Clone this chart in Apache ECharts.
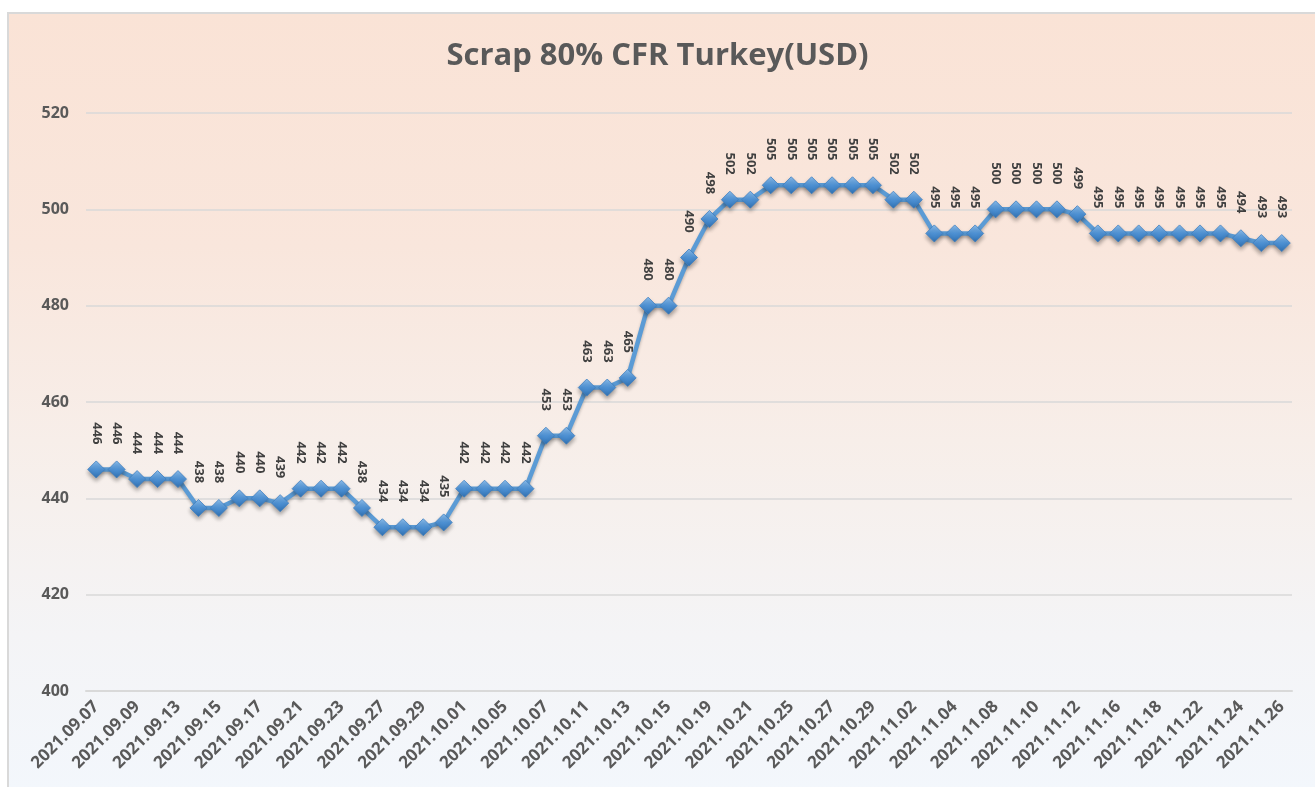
<!DOCTYPE html>
<html>
<head>
<meta charset="utf-8">
<script src="https://cdn.jsdelivr.net/npm/echarts@6/dist/echarts.min.js"></script>
<style>
html,body{margin:0;padding:0;background:#ffffff;width:1315px;height:787px;overflow:hidden;}
#bg{position:absolute;left:7px;top:12px;width:1312px;height:780px;border:2px solid #d9d9d9;box-sizing:border-box;
background:linear-gradient(to bottom,#fae3d6 0%,#f9e6dc 30%,#f7eee9 55%,#f4f4f6 80%,#f3f7fc 100%);}
#chart{position:absolute;left:0;top:0;width:1315px;height:787px;}
</style>
</head>
<body>
<div id="bg"></div>
<div id="chart"></div>
<script>
const titleText = "Scrap 80% CFR Turkey(USD)";
const dates = ["2021.09.07","2021.09.08","2021.09.09","2021.09.10","2021.09.13","2021.09.14","2021.09.15","2021.09.16","2021.09.17","2021.09.20","2021.09.21","2021.09.22","2021.09.23","2021.09.24","2021.09.27","2021.09.28","2021.09.29","2021.09.30","2021.10.01","2021.10.04","2021.10.05","2021.10.06","2021.10.07","2021.10.08","2021.10.11","2021.10.12","2021.10.13","2021.10.14","2021.10.15","2021.10.18","2021.10.19","2021.10.20","2021.10.21","2021.10.22","2021.10.25","2021.10.26","2021.10.27","2021.10.28","2021.10.29","2021.11.01","2021.11.02","2021.11.03","2021.11.04","2021.11.05","2021.11.08","2021.11.09","2021.11.10","2021.11.11","2021.11.12","2021.11.15","2021.11.16","2021.11.17","2021.11.18","2021.11.19","2021.11.22","2021.11.23","2021.11.24","2021.11.25","2021.11.26"];
const prices = [446,446,444,444,444,438,438,440,440,439,442,442,442,438,434,434,434,435,442,442,442,442,453,453,463,463,465,480,480,490,498,502,502,505,505,505,505,505,505,502,502,495,495,495,500,500,500,500,499,495,495,495,495,495,495,495,494,493,493];
const yMin = 400, yMax = 520, yStep = 20;

const chart = echarts.init(document.getElementById('chart'), null, {renderer:'canvas'});
chart.setOption({
  backgroundColor: 'transparent',
  animation: false,
  title: {
    text: titleText, left: 'center', top: 36,
    textStyle: {fontFamily: 'Open Sans', fontWeight: 'bold', fontSize: 31, color: '#595959'}
  },
  grid: {left: 86, right: 23, top: 113, bottom: 96, containLabel: false},
  xAxis: {
    type: 'category', data: dates, boundaryGap: true,
    axisLine: {show: true, lineStyle: {color: '#d9d9d9', width: 2}},
    axisTick: {show: false},
    axisLabel: {interval: 1, rotate: 45, margin: 13, fontFamily: 'Open Sans', fontWeight: 'bold', fontSize: 17, color: '#595959'}
  },
  yAxis: {
    type: 'value', min: yMin, max: yMax, interval: yStep,
    axisLine: {show: false}, axisTick: {show: false},
    splitLine: {lineStyle: {color: '#d9d9d9', width: 1.5}},
    axisLabel: {show: true, margin: 17, fontFamily: 'Open Sans', fontWeight: 'bold', fontSize: 16, color: '#595959'}
  },
  series: [{
    type: 'line', data: prices,
    showAllSymbol: true,
    lineStyle: {color: '#5b9bd5', width: 4.5, shadowColor: 'rgba(0,0,0,0.25)', shadowBlur: 3, shadowOffsetY: 2},
    symbol: 'diamond', symbolSize: 17,
    itemStyle: {
      color: new echarts.graphic.LinearGradient(0,0,0,1,[{offset:0,color:'#8ec0ee'},{offset:0.5,color:'#4f93d6'},{offset:1,color:'#2f6fb0'}]),
      borderColor: '#3f7fc0', borderWidth: 0.8,
      shadowColor: 'rgba(0,0,0,0.35)', shadowBlur: 4, shadowOffsetY: 3
    },
    label: {
      show: true, position: 'top', distance: 16, rotate: -90,
      align: 'right', verticalAlign: 'middle',
      fontFamily: 'Open Sans', fontWeight: 'bold', fontSize: 13, color: '#404040'
    },
    labelLayout: {hideOverlap: false}
  }]
});
</script>
</body>
</html>
